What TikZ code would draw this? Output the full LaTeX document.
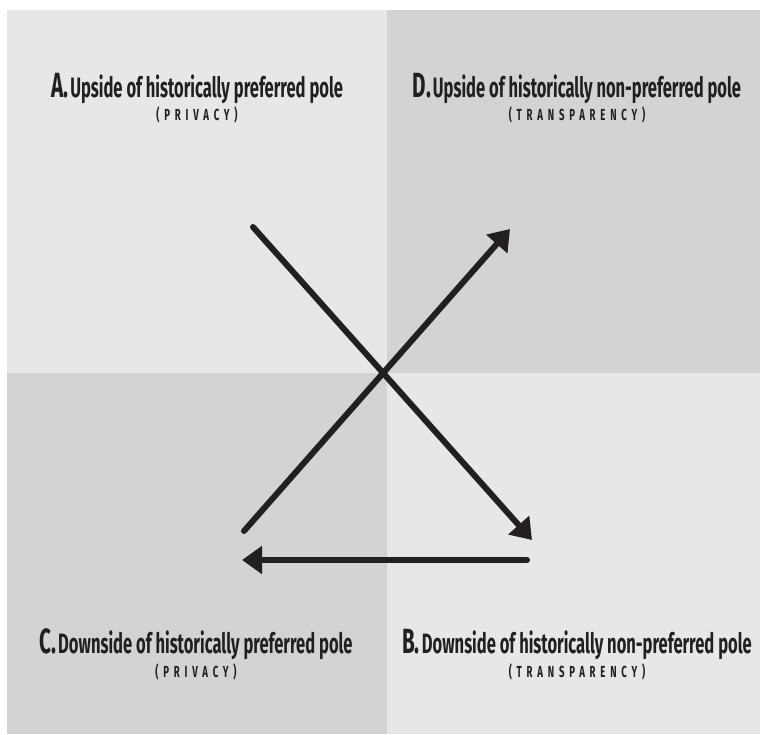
\documentclass[tikz,border=0pt]{standalone}
\usepackage{fontspec}
\usetikzlibrary{arrows.meta,positioning}
\newfontfamily\headfont[FakeStretch=0.59]{Fira Sans}
\newfontfamily\polefont[FakeStretch=0.6,LetterSpace=30]{Fira Sans}
\definecolor{ink}{HTML}{231F20}
\definecolor{lightq}{HTML}{E6E7E8}
\definecolor{darkq}{HTML}{D1D3D4}
\begin{document}
\begin{tikzpicture}[x=1pt, y=-1pt,
		head/.style = {anchor=base, inner sep=0, text=ink, font=\headfont\bfseries\fontsize{28}{28}\selectfont},
		pole/.style = {anchor=base, inner sep=0, text=ink, font=\polefont\bfseries\fontsize{16}{16}\selectfont},
		r/.style = {-{Triangle[length=20pt, width=27pt]}, draw=ink, line width=6pt, line cap=round}
		]
		\newcommand{\lett}[1]{{\fontsize{35}{35}\selectfont #1.}\hspace{2pt}}
		\useasboundingbox (0,0) rectangle (760,734);
		
		%Quadrants
		\fill[lightq]	(7,10)		rectangle	(387,373);
		\fill[darkq]	(387,10)	rectangle	(760,373);
		\fill[darkq]	(7,373)		rectangle	(387,734);
		\fill[lightq]	(387,373)	rectangle	(760,734);
		
		%Nodes
		\node[head]	(qa)	at	(197, 97)	{\lett{A}Upside of historically preferred pole};
		\node[pole]	(pa)	at	(197, 120)	{(PRIVACY)};
		\node[head]	(qd)	at	(577, 97)	{\lett{D}Upside of historically non-preferred pole};
		\node[pole]	(pd)	at	(577, 120)	{(TRANSPARENCY)};
		\node[head]	(qc)	at	(196, 653)	{\lett{C}Downside of historically preferred pole};
		\node[pole]	(pc)	at	(196, 677)	{(PRIVACY)};
		\node[head]	(qb)	at	(577, 653)	{\lett{B}Downside of historically non-preferred pole};
		\node[pole]	(pb)	at	(577, 677)	{(TRANSPARENCY)};
		
		\coordinate	(s1)	at	(253, 227);
		\coordinate	(t1)	at	(532, 540);
		\coordinate	(s2)	at	(527, 560);
		\coordinate	(t2)	at	(242, 560);
		\coordinate	(s3)	at	(244, 531);
		\coordinate	(t3)	at	(510, 229);
		
		%Lines
		\draw[r]	(s1)	--	(t1);
		\draw[r]	(s2)	--	(t2);
		\draw[r]	(s3)	--	(t3);
	\end{tikzpicture}
\end{document}
